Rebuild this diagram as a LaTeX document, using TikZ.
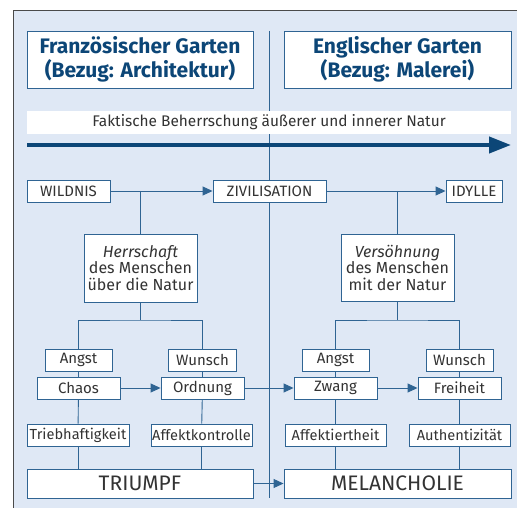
\documentclass[tikz,border=0pt]{standalone}
\usepackage{fontspec}
\setmainfont{Fira Sans}
\usetikzlibrary{arrows.meta}
\definecolor{bgc}{HTML}{DFE8F5}
\definecolor{linec}{HTML}{2F6493}
\definecolor{headc}{HTML}{0C4677}
\definecolor{txtc}{HTML}{333333}
\definecolor{framec}{HTML}{4A4A4A}
\tikzset{
  box/.style={draw=linec, fill=white, line width=0.9pt, inner sep=0pt, text=txtc, font=\fontsize{15}{17}\selectfont},
  headbox/.style={box, text=headc, font=\fontsize{21}{24.5}\selectfont\bfseries, align=center},
  conn/.style={draw=linec, line width=0.9pt},
  arr/.style={conn, -{Triangle[length=10pt,width=9pt]}},
}
\begin{document}
\begin{tikzpicture}[x=1pt,y=-1pt]
\useasboundingbox (0,0) rectangle (517,508);
% background frame
\fill[bgc] (13,11) rectangle (517,508);
\draw[framec, line width=1pt] (13,508) -- (13,11) -- (517,11);
% divider
\coordinate (dtop) at (269,31);
\coordinate (dbot) at (269,498);
\draw[conn] (dtop) -- (dbot);
% headings
\node[headbox, minimum width=226, minimum height=57] (hl) at (140,59.5) {Französischer Garten\\(Bezug: Architektur)};
\node[headbox, minimum width=227, minimum height=57] (hr) at (397.5,59.5) {Englischer Garten\\(Bezug: Malerei)};
% band
\node[fill=white, inner sep=0pt, minimum width=484, minimum height=23, text=txtc, font=\fontsize{15.4}{17}\selectfont] (band) at (269,122.5) {Faktische Beherrschung äußerer und innerer Natur};
\coordinate (a0) at (27,145);
\coordinate (a1) at (511,145);
\draw[draw=headc, line width=4pt, -{Triangle[length=22pt,width=16pt]}] (a0) -- (a1);
% row 1
\node[box, minimum width=83, minimum height=22] (wild) at (68.5,191) {WILDNIS};
\node[box, minimum width=113, minimum height=22] (ziv) at (269.5,191) {ZIVILISATION};
\node[box, minimum width=56, minimum height=22] (idy) at (474,191) {IDYLLE};
\draw[arr] (wild) -- (ziv);
\draw[arr] (ziv) -- (idy);
% central boxes
\node[box, minimum width=113, minimum height=68, align=center, font=\fontsize{16}{16.5}\selectfont] (herr) at (140.5,268) {\itshape Herrschaft\\des Menschen\\über die Natur};
\node[box, minimum width=113, minimum height=67, align=center, font=\fontsize{16}{16.5}\selectfont] (vers) at (397.5,267.5) {\itshape Versöhnung\\des Menschen\\mit der Natur};
\coordinate (bl) at (140.5,191);
\coordinate (br) at (397.5,191);
\draw[conn] (bl) -- (herr.north);
\draw[conn] (br) -- (vers.north);
% second row
\node[box, minimum width=67, minimum height=22] (angL) at (78.5,360) {Angst};
\node[box, minimum width=83, minimum height=22] (chaos) at (78.5,388) {Chaos};
\node[box, minimum width=68, minimum height=22] (wunL) at (202.5,360) {Wunsch};
\node[box, minimum width=83, minimum height=22] (ord) at (202.5,388) {Ordnung};
\node[box, minimum width=67, minimum height=22] (angR) at (335.5,360) {Angst};
\node[box, minimum width=83, minimum height=22] (zwang) at (335.5,388) {Zwang};
\node[box, minimum width=67, minimum height=22] (wunR) at (459.5,360) {Wunsch};
\node[box, minimum width=83, minimum height=22] (frei) at (459.5,388) {Freiheit};
\coordinate (hl1) at (140.5,320);
\coordinate (hr1) at (397.5,320);
\draw[conn] (herr.south) -- (hl1);
\draw[conn] (vers.south) -- (hr1);
\draw[conn] (angL.north) |- (hl1) -| (wunL.north);
\draw[conn] (angR.north) |- (hr1) -| (wunR.north);
\draw[conn] (angL) -- (chaos);
\draw[conn] (wunL) -- (ord);
\draw[conn] (angR) -- (zwang);
\draw[conn] (wunR) -- (frei);
\draw[arr] (chaos) -- (ord);
\draw[arr] (ord) -- (zwang);
\draw[arr] (zwang) -- (frei);
% third row
\node[box, minimum width=102, minimum height=22, font=\fontsize{14.6}{17}\selectfont] (trieb) at (78,435) {Triebhaftigkeit};
\node[box, minimum width=101, minimum height=22, font=\fontsize{14.6}{17}\selectfont] (affk) at (201.5,435) {Affektkontrolle};
\node[box, minimum width=101, minimum height=22, font=\fontsize{14.6}{17}\selectfont] (affi) at (335.5,435) {Affektiertheit};
\node[box, minimum width=101, minimum height=22, font=\fontsize{14.6}{17}\selectfont] (auth) at (459.5,435) {Authentizität};
\draw[conn] (chaos) -- (trieb);
\draw[conn] (ord) -- (affk);
\draw[conn] (zwang) -- (affi);
\draw[conn] (frei) -- (auth);
% bottom
\node[box, minimum width=226, minimum height=29, font=\fontsize{21}{23}\selectfont] (tri) at (140,483.5) {TRIUMPF};
\node[box, minimum width=227, minimum height=29, font=\fontsize{21}{23}\selectfont] (mel) at (397.5,483.5) {MELANCHOLIE};
\coordinate (t1) at (78,469);
\coordinate (t2) at (201.5,469);
\coordinate (m1) at (335.5,469);
\coordinate (m2) at (459.5,469);
\draw[conn] (trieb) -- (t1);
\draw[conn] (affk) -- (t2);
\draw[conn] (affi) -- (m1);
\draw[conn] (auth) -- (m2);
\draw[arr] (tri) -- (mel);
\end{tikzpicture}
\end{document}
